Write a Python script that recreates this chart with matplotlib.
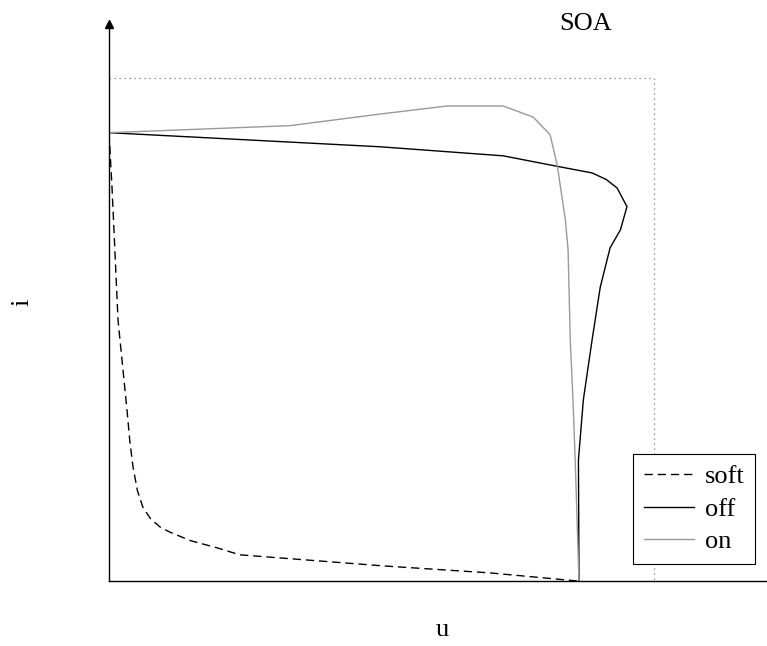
import matplotlib
matplotlib.use("Agg")
import matplotlib.pyplot as plt

# SOA limits (normalised)
U_MAX = 1.0
I_MAX = 1.0

# soft switching trajectory
soft_u = [0.0, 0.0055, 0.011, 0.0165, 0.0257, 0.033, 0.038, 0.044, 0.052, 0.062, 0.076, 0.094, 0.112, 0.150, 0.198, 0.240, 0.360, 0.503, 0.700, 0.859]
soft_i = [0.891, 0.783, 0.652, 0.519, 0.419, 0.340, 0.280, 0.227, 0.180, 0.147, 0.124, 0.107, 0.097, 0.080, 0.066, 0.052, 0.042, 0.030, 0.016, 0.0]

# turn-off trajectory
off_u = [0.0, 0.497, 0.723, 0.818, 0.886, 0.912, 0.932, 0.950, 0.938, 0.919, 0.901, 0.886, 0.870, 0.861, 0.862]
off_i = [0.891, 0.863, 0.845, 0.825, 0.811, 0.798, 0.781, 0.744, 0.698, 0.662, 0.584, 0.479, 0.360, 0.241, 0.0]

# turn-on trajectory
on_u = [0.0, 0.332, 0.497, 0.620, 0.723, 0.778, 0.809, 0.822, 0.837, 0.842, 0.846, 0.851, 0.855, 0.862]
on_i = [0.891, 0.905, 0.928, 0.944, 0.944, 0.922, 0.887, 0.827, 0.718, 0.658, 0.479, 0.360, 0.241, 0.0]

plt.rcParams['font.family'] = ['Liberation Serif', 'DejaVu Serif']
plt.rcParams['font.size'] = 19

fig = plt.figure(figsize=(7.67, 6.46), dpi=100)
ax = fig.add_axes([109 / 767, 65 / 646, 657 / 767, 557 / 646])

# SOA boundary
ax.plot([0, U_MAX, U_MAX], [I_MAX, I_MAX, 0], linestyle=(0, (1, 3)), color='#777777', lw=0.9)

ax.plot(soft_u, soft_i, color='black', lw=1.0, linestyle=(0, (6, 3.5)), label='soft')
ax.plot(off_u, off_i, color='black', lw=1.0, label='off')
ax.plot(on_u, on_i, color='#999999', lw=1.0, label='on')

ax.set_xlim(0, 1.205)
ax.set_ylim(0, 1.107)
ax.spines['top'].set_visible(False)
ax.spines['right'].set_visible(False)
ax.spines['left'].set_linewidth(1.0)
ax.spines['bottom'].set_linewidth(1.0)
ax.set_xticks([])
ax.set_yticks([])

# arrow on the i axis
ax.plot([0], [1], marker='^', markersize=6, color='black', transform=ax.transAxes, clip_on=False)

# axis labels and title placed in figure pixels
fig.text(442 / 767, 1 - 630 / 646, 'u', ha='center', va='center')
fig.text(22 / 767, 1 - 302 / 646, 'i', ha='center', va='center', rotation=90)
fig.text(586 / 767, 1 - 24 / 646, 'SOA', ha='center', va='center')

leg = ax.legend(loc='lower right', bbox_to_anchor=(0.983, 0.0305), borderaxespad=0,
                fancybox=False, edgecolor='black', framealpha=1, handlelength=1.9,
                handletextpad=0.4, labelspacing=0.35, borderpad=0.4)
leg.get_frame().set_linewidth(0.8)

fig.savefig('out.png', dpi=100)
